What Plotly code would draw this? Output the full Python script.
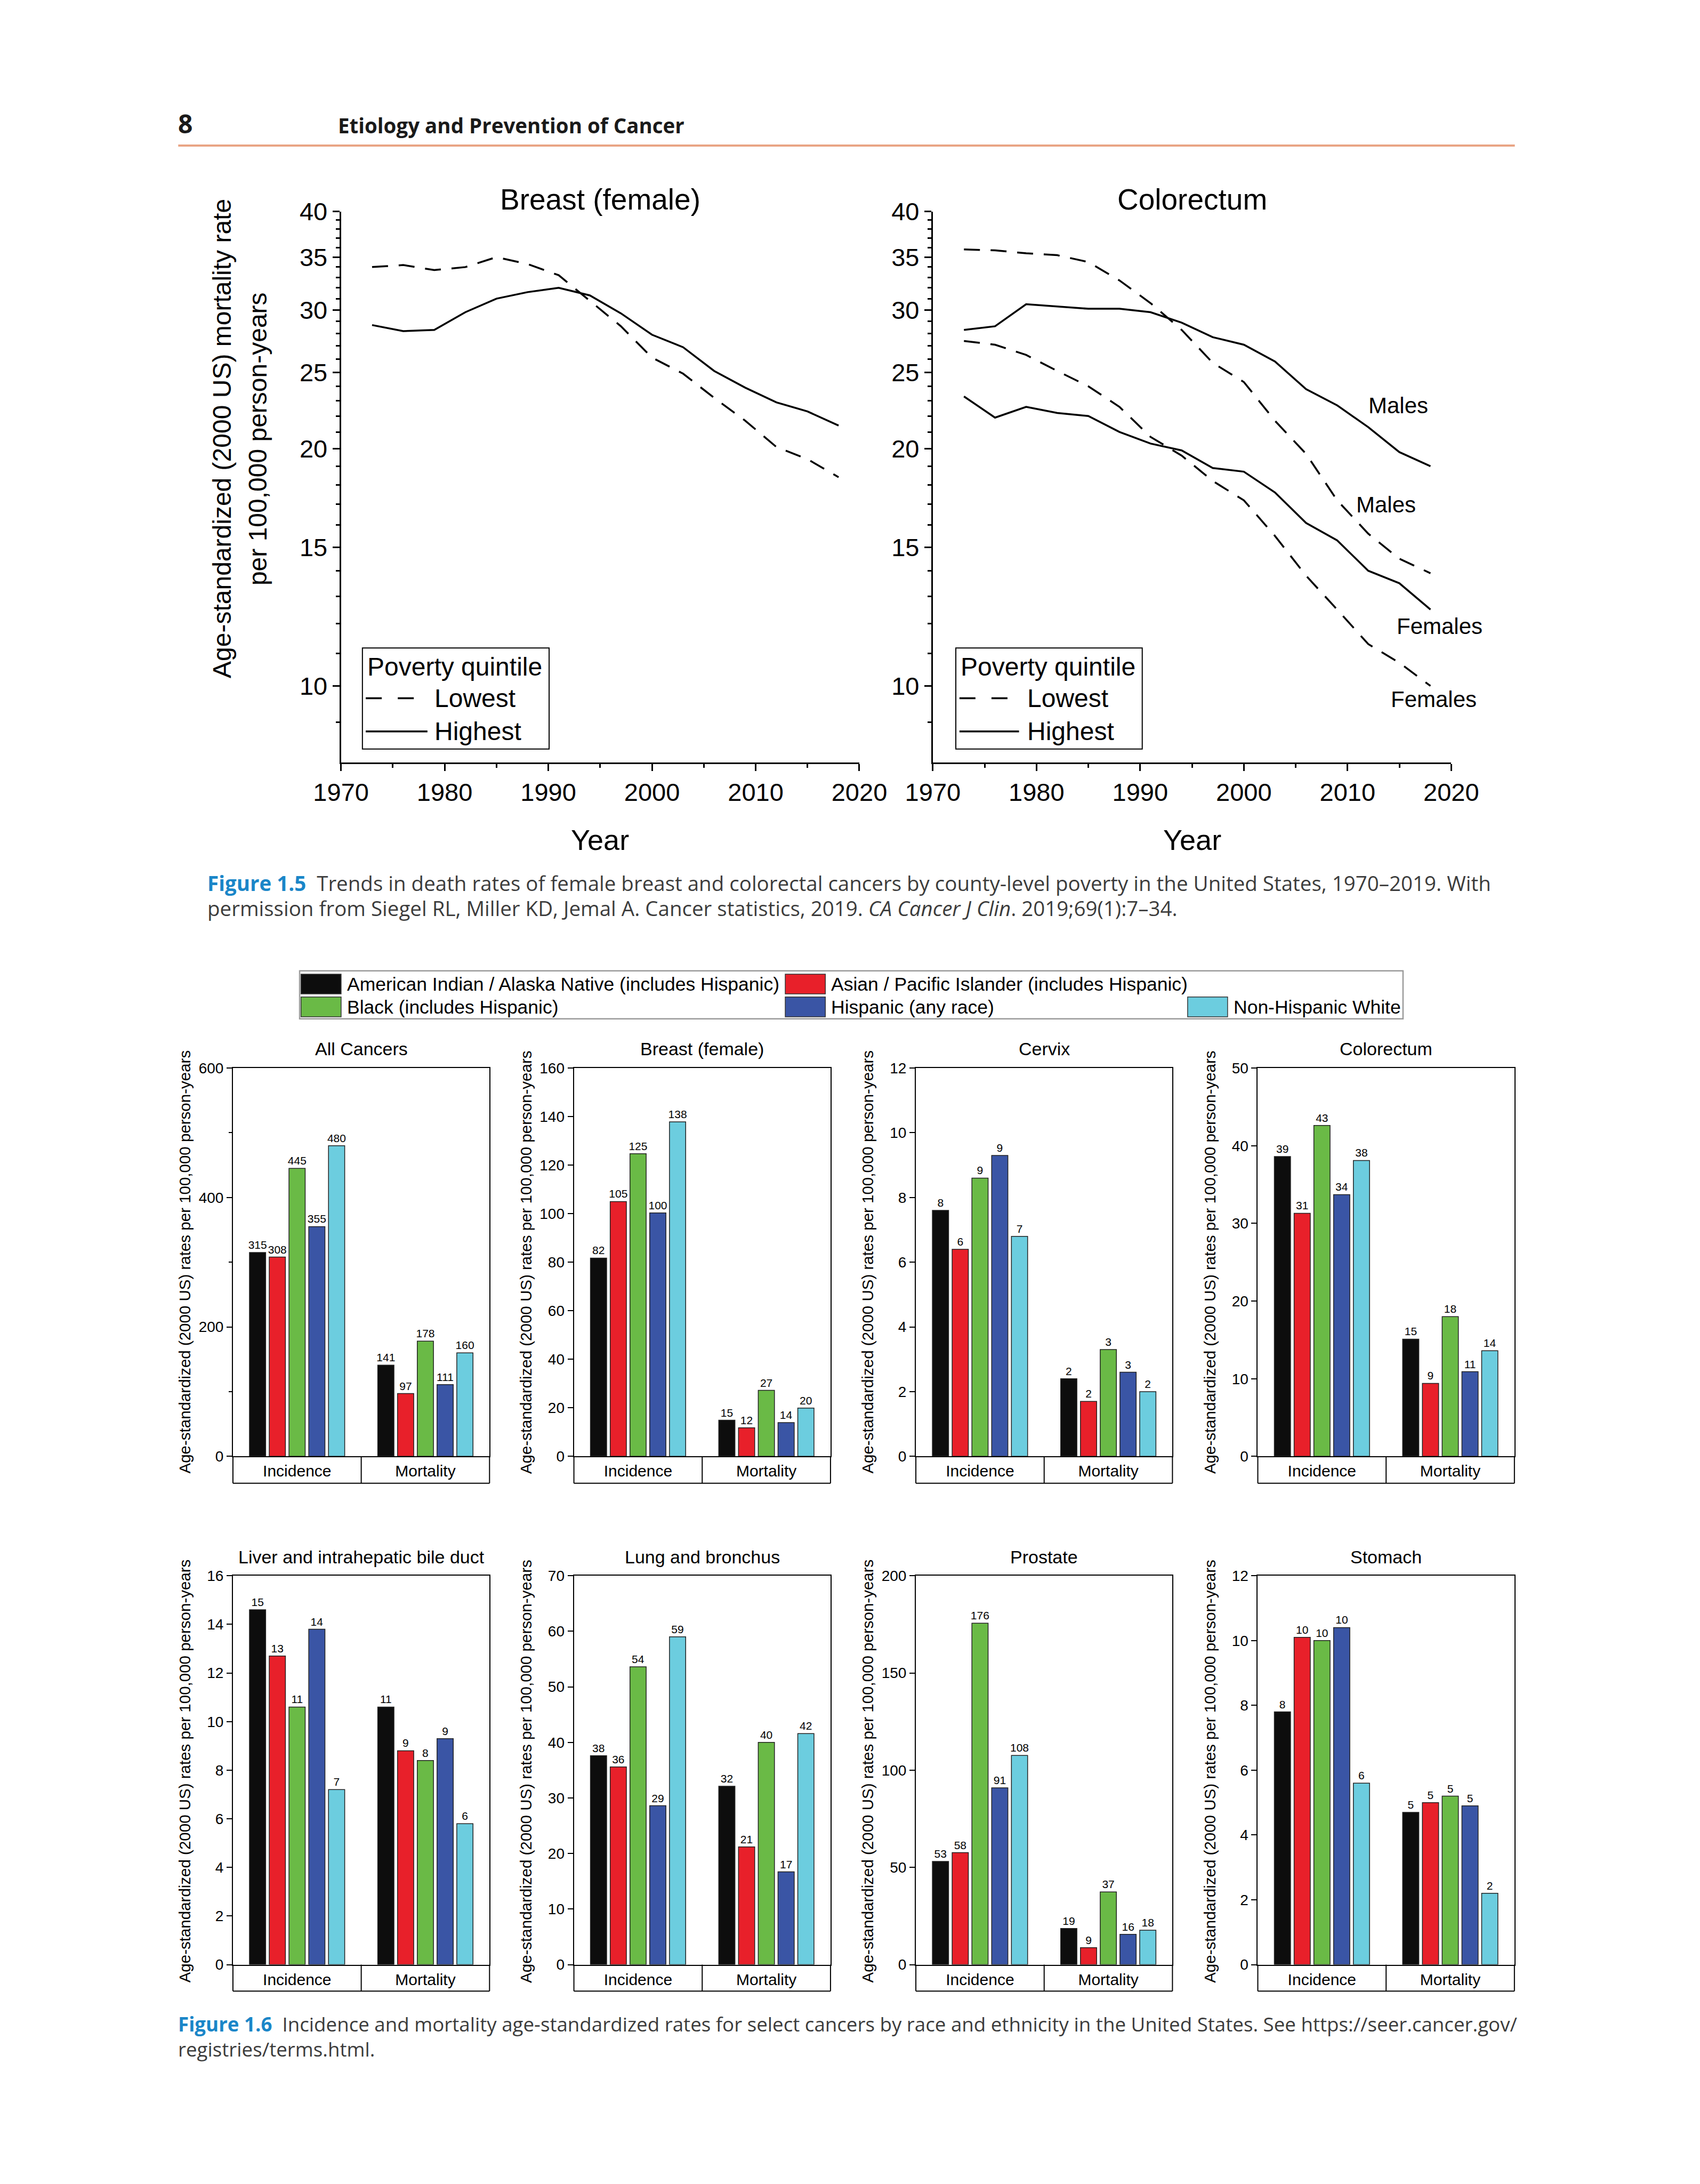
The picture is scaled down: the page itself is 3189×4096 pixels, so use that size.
import math
import plotly.graph_objects as go

# ---------------- data: Figure 1.5 (log-scale trends) ----------------
years = [1973, 1976, 1979, 1982, 1985, 1988, 1991, 1994, 1997, 2000, 2003, 2006, 2009, 2012, 2015, 2018]
breast_lowest = [34.0, 34.2, 33.7, 34.0, 35.0, 34.3, 33.2, 30.8, 28.6, 26.1, 24.9, 23.2, 21.7, 20.1, 19.4, 18.4]
breast_highest = [28.7, 28.2, 28.3, 29.8, 31.0, 31.6, 32.0, 31.3, 29.7, 27.9, 26.9, 25.1, 23.9, 22.9, 22.3, 21.4]
crc_male_lowest = [35.8, 35.7, 35.4, 35.2, 34.5, 32.7, 30.6, 28.3, 25.7, 24.3, 21.7, 19.7, 17.2, 15.6, 14.5, 13.9]
crc_male_highest = [28.3, 28.6, 30.5, 30.3, 30.1, 30.1, 29.8, 28.9, 27.7, 27.1, 25.8, 23.8, 22.7, 21.3, 19.8, 19.0]
crc_female_lowest = [27.4, 27.1, 26.3, 25.1, 24.0, 22.6, 20.7, 19.6, 18.2, 17.2, 15.5, 13.8, 12.5, 11.3, 10.7, 10.0]
crc_female_highest = [23.3, 21.9, 22.6, 22.2, 22.0, 21.0, 20.3, 19.9, 18.9, 18.7, 17.6, 16.1, 15.3, 14.0, 13.5, 12.5]
trend_titles = ["Breast (female)", "Colorectum"]
log_major_ticks = [10, 15, 20, 25, 30, 35, 40]
log_minor_ticks = [9, 11, 12, 13, 14, 16, 17, 18, 19, 21, 22, 23, 24, 26, 27, 28, 29, 31, 32, 33, 34, 36, 37, 38, 39]
year_ticks = [1970, 1980, 1990, 2000, 2010, 2020]
year_minor_ticks = [1975, 1985, 1995, 2005, 2015]

# ---------------- data: Figure 1.6 (bars) ----------------
groups = ["American Indian / Alaska Native (includes Hispanic)",
          "Asian / Pacific Islander (includes Hispanic)",
          "Black (includes Hispanic)",
          "Hispanic (any race)",
          "Non-Hispanic White"]
group_colors = ["#0d0d0d", "#e8202a", "#6aba46", "#3a55a5", "#6ccddf"]
measures = ["Incidence", "Mortality"]
cancer_titles = ["All Cancers", "Breast (female)", "Cervix", "Colorectum",
                 "Liver and intrahepatic bile duct", "Lung and bronchus", "Prostate", "Stomach"]
all_cancers_inc = [315, 308, 445, 355, 480]
all_cancers_mort = [141, 97, 178, 111, 160]
breast_inc = [81.7, 105, 124.7, 100.3, 137.8]
breast_mort = [14.9, 11.8, 27.2, 13.9, 19.9]
cervix_inc = [7.6, 6.4, 8.6, 9.3, 6.8]
cervix_mort = [2.4, 1.7, 3.3, 2.6, 2.0]
colorectum_inc = [38.6, 31.3, 42.6, 33.7, 38.1]
colorectum_mort = [15.1, 9.4, 18.0, 10.9, 13.6]
liver_inc = [14.6, 12.7, 10.6, 13.8, 7.2]
liver_mort = [10.6, 8.8, 8.4, 9.3, 5.8]
lung_inc = [37.6, 35.6, 53.6, 28.6, 59.0]
lung_mort = [32.1, 21.2, 40.0, 16.7, 41.6]
prostate_inc = [53.1, 57.6, 175.6, 90.9, 107.6]
prostate_mort = [18.6, 8.7, 37.4, 15.6, 17.7]
stomach_inc = [7.8, 10.1, 10.0, 10.4, 5.6]
stomach_mort = [4.7, 5.0, 5.2, 4.9, 2.2]
bar_y_max = [600, 160, 12, 50, 16, 70, 200, 12]
bar_y_dtick = [200, 20, 2, 10, 2, 10, 50, 2]
bar_ytitle = "Age-standardized (2000 US) rates per 100,000 person-years"

inc_sets = [all_cancers_inc, breast_inc, cervix_inc, colorectum_inc, liver_inc, lung_inc, prostate_inc, stomach_inc]
mort_sets = [all_cancers_mort, breast_mort, cervix_mort, colorectum_mort, liver_mort, lung_mort, prostate_mort, stomach_mort]

# ---------------- geometry helpers ----------------
W, H = 3189, 4096
SW, SH = 1221.0, 1568.0
KX, KY = W / SW, H / SH
OFF = 8  # page body margin of the html page


def px(sx):
    return (sx * KX - OFF) / W


def py(sy):
    return 1 - (sy * KY - OFF) / H


CHART_FONT = "Liberation Sans, Arial, sans-serif"
CAP_FONT = "Open Sans, Noto Sans, sans-serif"

fig = go.Figure()
annotations = []
shapes = []

# ---------------- Figure 1.5 ----------------
LINE_X = [(244.9, 617.2), (670.0, 1042.3)]
LINE_Y = (151.8, 547.3)
DASH = "30px,20px"

trend_series = [
    (1, breast_lowest, DASH), (1, breast_highest, "solid"),
    (2, crc_male_lowest, DASH), (2, crc_male_highest, "solid"),
    (2, crc_female_lowest, DASH), (2, crc_female_highest, "solid"),
]
for ax, vals, dash in trend_series:
    suf = "" if ax == 1 else "2"
    fig.add_trace(go.Scatter(x=years, y=vals, mode="lines",
                             line=dict(color="black", width=3.5, dash=dash),
                             xaxis="x" + suf, yaxis="y" + suf,
                             showlegend=False, hoverinfo="skip"))

for i in range(2):
    suf = "" if i == 0 else str(i + 1)
    x0, x1 = LINE_X[i]
    fig.layout["xaxis" + suf] = dict(
        domain=[px(x0), px(x1)], anchor="y" + suf, range=[1970, 2020], automargin=False,
        showline=True, linecolor="black", linewidth=3, mirror=False,
        ticks="outside", ticklen=13, tickwidth=3, tickcolor="black",
        tickmode="array", tickvals=year_ticks, ticklabelstandoff=0,
        minor=dict(tickmode="array", tickvals=year_minor_ticks, ticks="outside", ticklen=7, tickwidth=3, tickcolor="black"),
        tickfont=dict(size=47, family=CHART_FONT, color="black"),
        showgrid=False, zeroline=False)
    fig.layout["yaxis" + suf] = dict(
        domain=[py(LINE_Y[1]), py(LINE_Y[0])], anchor="x" + suf, type="log", automargin=False,
        range=[math.log10(8), math.log10(40)],
        showline=True, linecolor="black", linewidth=3,
        ticks="outside", ticklen=13, tickwidth=3, tickcolor="black",
        tickmode="array", tickvals=log_major_ticks, ticktext=[str(v) for v in log_major_ticks],
        minor=dict(tickmode="array", tickvals=log_minor_ticks, ticks="outside", ticklen=7, tickwidth=2.5, tickcolor="black"),
        tickfont=dict(size=47, family=CHART_FONT, color="black"),
        showgrid=False, zeroline=False)
    cx = (x0 + x1) / 2
    annotations.append(dict(text=trend_titles[i], x=px(cx), y=py(143), xref="paper", yref="paper",
                            showarrow=False, xanchor="center", yanchor="middle",
                            font=dict(size=55, family=CHART_FONT, color="black")))
    annotations.append(dict(text="Year", x=px(cx), y=py(603), xref="paper", yref="paper",
                            showarrow=False, xanchor="center", yanchor="middle",
                            font=dict(size=54, family=CHART_FONT, color="black")))

# y title of figure 1.5
annotations.append(dict(text="Age-standardized (2000 US) mortality rate", x=px(159.7), y=py(315),
                        xref="paper", yref="paper", showarrow=False, textangle=-90,
                        xanchor="center", yanchor="middle",
                        font=dict(size=48, family=CHART_FONT, color="black")))
annotations.append(dict(text="per 100,000 person-years", x=px(185.4), y=py(315),
                        xref="paper", yref="paper", showarrow=False, textangle=-90,
                        xanchor="center", yanchor="middle",
                        font=dict(size=48, family=CHART_FONT, color="black")))

# legends "Poverty quintile"
for bx0, bx1, tx, lx0, lx1 in [(260.3, 394.4, 311.4, 262.7, 307.0), (686.5, 820.4, 737.1, 689.1, 731.9)]:
    shapes.append(dict(type="rect", xref="paper", yref="paper", x0=px(bx0), x1=px(bx1),
                       y0=py(537.8), y1=py(465.2), line=dict(color="black", width=2)))
    annotations.append(dict(text="Poverty quintile", x=px(bx0 + 2.6), y=py(478.6), xref="paper", yref="paper",
                            showarrow=False, xanchor="left", yanchor="middle",
                            font=dict(size=48, family=CHART_FONT, color="black")))
    annotations.append(dict(text="Lowest", x=px(tx), y=py(501.3), xref="paper", yref="paper",
                            showarrow=False, xanchor="left", yanchor="middle",
                            font=dict(size=48, family=CHART_FONT, color="black")))
    annotations.append(dict(text="Highest", x=px(tx), y=py(525.1), xref="paper", yref="paper",
                            showarrow=False, xanchor="left", yanchor="middle",
                            font=dict(size=48, family=CHART_FONT, color="black")))
    for d0 in (lx0, lx0 + 23.0):
        shapes.append(dict(type="line", xref="paper", yref="paper", x0=px(d0), x1=px(d0 + 11.5),
                           y0=py(501.3), y1=py(501.3), line=dict(color="black", width=3.5)))
    shapes.append(dict(type="line", xref="paper", yref="paper", x0=px(lx0), x1=px(lx1),
                       y0=py(525.1), y1=py(525.1), line=dict(color="black", width=3.5)))

for txt, sx, sy in [("Males", 1004.1, 291.2), ("Males", 995.3, 362.5),
                    ("Females", 1034.1, 449.7), ("Females", 1029.7, 501.9)]:
    annotations.append(dict(text=txt, x=px(sx), y=py(sy), xref="paper", yref="paper",
                            showarrow=False, xanchor="center", yanchor="middle",
                            font=dict(size=42, family=CHART_FONT, color="black")))

# ---------------- Figure 1.6 ----------------
BAR_LEFT = [167.3, 412.2, 657.8, 903.4]
BAR_W = 184.3
BAR_ROWS = [dict(top=766.8, zero=1045.6, box=1064.9, title=753.1, ytitle=906.0),
            dict(top=1131.3, zero=1410.5, box=1429.5, title=1117.8, ytitle=1271.5)]

for p in range(8):
    ax = p + 3
    row = BAR_ROWS[p // 4]
    left = BAR_LEFT[p % 4]
    for g in range(5):
        fig.add_trace(go.Bar(
            x=measures, y=[inc_sets[p][g], mort_sets[p][g]], name=groups[g],
            marker=dict(color=group_colors[g], line=dict(color="#222222", width=1.5)),
            texttemplate="%{y:.0f}", textposition="outside", cliponaxis=False, constraintext="none",
            textfont=dict(size=21, family=CHART_FONT, color="black"),
            xaxis=f"x{ax}", yaxis=f"y{ax}", showlegend=False, hoverinfo="skip"))
    fig.layout[f"xaxis{ax}"] = dict(
        domain=[px(left), px(left + BAR_W)], anchor=f"y{ax}", type="category", automargin=False,
        showline=True, linecolor="black", linewidth=2, mirror=True, ticks="",
        tickfont=dict(size=30, family=CHART_FONT, color="black"),
        showgrid=False, zeroline=False)
    ydict = dict(
        domain=[py(row["zero"]), py(row["top"])], anchor=f"x{ax}", automargin=False,
        range=[0, bar_y_max[p]], tickmode="linear", tick0=0, dtick=bar_y_dtick[p],
        showline=True, linecolor="black", linewidth=2, mirror=True,
        ticks="outside", ticklen=10, tickwidth=2, tickcolor="black",
        tickfont=dict(size=28, family=CHART_FONT, color="black"),
        showgrid=False, zeroline=False)
    if p == 0:
        ydict["minor"] = dict(ticks="outside", dtick=100, tick0=0, ticklen=6, tickwidth=2, tickcolor="black")
    fig.layout[f"yaxis{ax}"] = ydict
    # category table box below the axis
    d = (row["box"] - row["zero"]) / (row["zero"] - row["top"])
    for (a0, b0, a1, b1) in [(0, 0, 0, -d), (1, 0, 1, -d), (0, -d, 1, -d), (0.5, 0, 0.5, -d)]:
        shapes.append(dict(type="line", xref=f"x{ax} domain", yref=f"y{ax} domain",
                           x0=a0, y0=b0, x1=a1, y1=b1, line=dict(color="black", width=2)))
    annotations.append(dict(text=cancer_titles[p], x=px(left + BAR_W / 2), y=py(row["title"]),
                            xref="paper", yref="paper", showarrow=False,
                            xanchor="center", yanchor="middle",
                            font=dict(size=34, family=CHART_FONT, color="black")))
    annotations.append(dict(text=bar_ytitle, x=px(left - 34.5), y=py(row["ytitle"]),
                            xref="paper", yref="paper", showarrow=False, textangle=-90,
                            xanchor="center", yanchor="middle",
                            font=dict(size=29.5, family=CHART_FONT, color="black")))

# custom legend for figure 1.6
shapes.append(dict(type="rect", xref="paper", yref="paper", x0=px(215.2), x1=px(1007.7),
                   y0=py(731.5), y1=py(697.0), line=dict(color="#9a9a9a", width=2.5)))
legend_slots = [(216.2, 245.0, 248.6), (564.0, 592.8, 596.3),
                (216.2, 245.0, 248.6), (564.0, 592.8, 596.3), (853.0, 881.7, 885.3)]
legend_rows = [0, 0, 1, 1, 1]
for g in range(5):
    sx0, sx1, tx = legend_slots[g]
    r = legend_rows[g]
    ys0, ys1, ty = (699.4, 713.6, 706.5) if r == 0 else (715.8, 730.0, 723.0)
    shapes.append(dict(type="rect", xref="paper", yref="paper", x0=px(sx0), x1=px(sx1),
                       y0=py(ys1), y1=py(ys0), fillcolor=group_colors[g],
                       line=dict(color="#333333", width=1.5)))
    annotations.append(dict(text=groups[g], x=px(tx), y=py(ty), xref="paper", yref="paper",
                            showarrow=False, xanchor="left", yanchor="middle",
                            font=dict(size=35.5, family=CHART_FONT, color="black")))

# ---------------- page header and captions ----------------
BLUE = "#1a86c8"
CAP_COLOR = "#3c3c3c"
annotations.append(dict(text="<b>8</b>", x=px(127), y=py(88.5), xref="paper", yref="paper",
                        showarrow=False, xanchor="left", yanchor="middle",
                        font=dict(size=48, family=CAP_FONT, color="#1a1a1a")))
annotations.append(dict(text="<b>Etiology and Prevention of Cancer</b>", x=px(242), y=py(90), xref="paper", yref="paper",
                        showarrow=False, xanchor="left", yanchor="middle",
                        font=dict(size=38.5, family=CAP_FONT, color="#1a1a1a")))
shapes.append(dict(type="line", xref="paper", yref="paper", x0=px(128), x1=px(1088),
                   y0=py(104.5), y1=py(104.5), line=dict(color="#e9a484", width=4)))

caption_lines = [
    (148, 634, 38.5, f'<span style="color:{BLUE}"><b>Figure 1.5</b></span>  Trends in death rates of female breast and colorectal cancers by county-level poverty in the United States, 1970–2019. With'),
    (148, 652, 38.5, 'permission from Siegel RL, Miller KD, Jemal A. Cancer statistics, 2019. <i>CA Cancer J Clin</i>. 2019;69(1):7–34.'),
    (127, 1453, 36.7, f'<span style="color:{BLUE}"><b>Figure 1.6</b></span>  Incidence and mortality age-standardized rates for select cancers by race and ethnicity in the United States. See https://seer.cancer.gov/'),
    (127, 1471, 36.7, 'registries/terms.html.'),
]
for sx, sy, size, txt in caption_lines:
    annotations.append(dict(text=txt, x=px(sx), y=py(sy), xref="paper", yref="paper",
                            showarrow=False, xanchor="left", yanchor="middle",
                            font=dict(size=size, family=CAP_FONT, color=CAP_COLOR)))

fig.update_layout(
    template="none",
    width=W, height=H, autosize=False,
    margin=dict(l=0, r=0, t=0, b=0, pad=0, autoexpand=False),
    paper_bgcolor="white", plot_bgcolor="white",
    barmode="group", bargap=0.23, bargroupgap=0.18,
    font=dict(family=CHART_FONT, color="black"),
    annotations=annotations, shapes=shapes,
    showlegend=False,
)

fig.write_html("out.html")
